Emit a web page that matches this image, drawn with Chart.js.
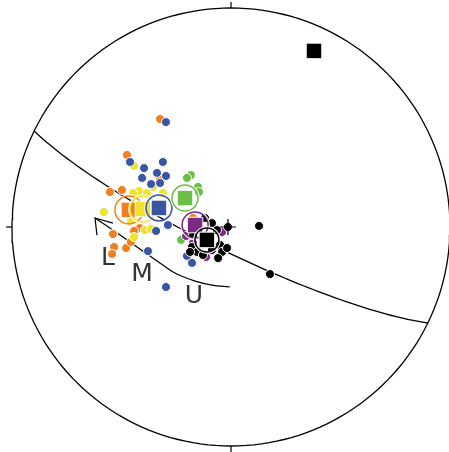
<!DOCTYPE html>
<html>
<head>
<meta charset="utf-8">
<script src="https://cdn.jsdelivr.net/npm/chart.js@4.4.1/dist/chart.umd.min.js"></script>
<style>
  html, body { margin: 0; padding: 0; background: #fff; }
  #wrap { width: 449px; height: 452px; }
</style>
</head>
<body>
<div id="wrap"><canvas id="net"></canvas></div>
<script>
// Lower-hemisphere equal-area net; coordinates are in net units
// (primitive circle radius = 1, x = east, y = north).

// Individual directions, one list per group
const orangeDirs = [
  [-0.324, 0.493], [-0.475, 0.329], [-0.324, 0.224], [-0.553, 0.160],
  [-0.498, 0.169], [-0.416, -0.005], [-0.539, -0.032], [-0.534, -0.091],
  [-0.543, -0.123], [-0.479, -0.096], [-0.457, -0.068], [-0.174, 0.041],
  [-0.443, -0.018]
];
const yellowDirs = [
  [-0.443, 0.279], [-0.420, 0.164], [-0.384, 0.155], [-0.356, 0.183],
  [-0.311, 0.155], [-0.580, 0.068], [-0.457, 0.023], [-0.443, -0.046],
  [-0.393, -0.014], [-0.365, -0.009], [-0.447, 0.155]
];
const blueDirs = [
  [-0.297, 0.479], [-0.461, 0.297], [-0.397, 0.269], [-0.311, 0.297],
  [-0.338, 0.247], [-0.297, 0.233], [-0.406, 0.224], [-0.365, 0.196],
  [-0.324, 0.201], [-0.288, 0.009], [-0.342, -0.018], [-0.379, -0.110],
  [-0.297, -0.274], [-0.201, -0.132], [-0.178, -0.164]
];
const greenDirs = [
  [-0.183, 0.237], [-0.201, 0.224], [-0.151, 0.183], [-0.146, 0.160],
  [-0.228, -0.059]
];
const purpleDirs = [
  [-0.041, -0.023], [-0.114, -0.137], [-0.174, -0.073], [-0.205, -0.041]
];
const blackDirs = [
  [-0.119, 0.041], [-0.087, 0.018], [-0.014, 0.000], [0.128, 0.005],
  [0.178, -0.215], [-0.174, -0.037], [-0.064, -0.014], [-0.178, -0.091],
  [-0.155, -0.114], [-0.128, -0.128], [-0.187, -0.114], [-0.050, -0.082],
  [-0.041, -0.114], [-0.018, -0.096], [-0.059, -0.142], [-0.087, -0.105]
];
// Direction drawn with a cross on top
const crossedDir = [[-0.014, 0.000]];

// Group means and their confidence cones (cone radius in px)
const groupMeans = [
  [-0.466, 0.078], [-0.402, 0.082], [-0.329, 0.087],
  [-0.210, 0.132], [-0.164, 0.009], [-0.110, -0.059]
];
const coneRadii = [14, 13, 13, 13, 13, 12];
const poleMean = [[0.379, 0.804]];

// Reference plane (strike, dip in degrees, right-hand rule)
const planeStrike = 116;
const planeDip = 81;

// Path of the L-M-U sequence, tail to arrow tip
const pathTrace = [
  [-0.005, -0.274], [-0.087, -0.265], [-0.164, -0.247], [-0.247, -0.215],
  [-0.311, -0.174], [-0.370, -0.132], [-0.429, -0.091], [-0.493, -0.046],
  [-0.553, -0.005], [-0.621, 0.041]
];
const arrowHead = [[-0.539, 0.018], [-0.621, 0.041], [-0.612, -0.037]];
const pathLabels = ['L', 'M', 'U'];
const pathLabelPos = [[-0.562, -0.132], [-0.406, -0.205], [-0.169, -0.306]];

// ---- geometry helpers ----
const D2R = Math.PI / 180;
function projectLine(n, e, d) {
  // vector (north, east, down) -> equal-area net coordinates
  if (d < 0) { n = -n; e = -e; d = -d; }
  const len = Math.hypot(n, e, d);
  const plunge = Math.asin(d / len);
  const trend = Math.atan2(e, n);
  const r = Math.SQRT2 * Math.sin((Math.PI / 2 - plunge) / 2);
  return { x: r * Math.sin(trend), y: r * Math.cos(trend) };
}
function greatCircle(strike, dip) {
  const s = [Math.cos(strike * D2R), Math.sin(strike * D2R), 0];
  const dd = (strike + 90) * D2R;
  const dv = [Math.cos(dip * D2R) * Math.cos(dd), Math.cos(dip * D2R) * Math.sin(dd), Math.sin(dip * D2R)];
  const pts = [];
  for (let a = 0; a <= 180; a += 2) {
    const c = Math.cos(a * D2R), sn = Math.sin(a * D2R);
    pts.push(projectLine(c * s[0] + sn * dv[0], c * s[1] + sn * dv[1], c * s[2] + sn * dv[2]));
  }
  return pts;
}
function primitive() {
  const pts = [];
  for (let a = 0; a <= 360; a += 2) pts.push({ x: Math.sin(a * D2R), y: Math.cos(a * D2R) });
  return pts;
}
const xy = arr => arr.map(p => ({ x: p[0], y: p[1] }));

const tickLen = 0.027;
const tickMarks = [
  [{ x: 0, y: 1 }, { x: 0, y: 1 + tickLen }],
  [{ x: 1, y: 0 }, { x: 1 + tickLen, y: 0 }],
  [{ x: 0, y: -1 }, { x: 0, y: -1 - tickLen }],
  [{ x: -1, y: 0 }, { x: -1 - tickLen, y: 0 }]
];

const groupColors = ['#f07f22', '#efe32b', '#3b55a5', '#6bbf48', '#7b2b86', '#000000'];
const groupDirs = [orangeDirs, yellowDirs, blueDirs, greenDirs, purpleDirs, blackDirs];

function lineSet(data, width) {
  return { type: 'scatter', data, showLine: true, borderColor: '#000', borderWidth: width,
           pointRadius: 0, fill: false, tension: 0 };
}

// Listed bottom to top
const layers = [];
layers.push(lineSet(primitive(), 1.3));
tickMarks.forEach(t => layers.push(lineSet(t, 1.2)));
layers.push(lineSet(greatCircle(planeStrike, planeDip), 1.3));
layers.push(Object.assign(lineSet(xy(pathTrace), 1.2), { tension: 0.4 }));
layers.push(lineSet(xy(arrowHead), 1.2));
groupDirs.forEach((dirs, i) => {
  layers.push({ type: 'scatter', data: xy(dirs), pointStyle: 'circle', pointRadius: 4.5,
    backgroundColor: groupColors[i], borderColor: '#fff', borderWidth: 1 });
});
layers.push({ type: 'scatter', data: xy(crossedDir), pointStyle: 'cross', pointRadius: 8,
  borderColor: '#000', borderWidth: 1.2, backgroundColor: '#000' });
groupMeans.forEach((m, i) => {
  layers.push({ type: 'scatter', data: xy([m]), pointStyle: 'circle', pointRadius: coneRadii[i] + 1,
    backgroundColor: 'rgba(0,0,0,0)', borderColor: '#fff', borderWidth: 1.5 });
  layers.push({ type: 'scatter', data: xy([m]), pointStyle: 'circle', pointRadius: coneRadii[i],
    backgroundColor: 'rgba(0,0,0,0)', borderColor: groupColors[i], borderWidth: 1.5 });
  layers.push({ type: 'scatter', data: xy([m]), pointStyle: 'rect', pointRadius: 11,
    backgroundColor: groupColors[i], borderColor: '#fff', borderWidth: 1 });
});
layers.push({ type: 'scatter', data: xy(poleMean), pointStyle: 'rect', pointRadius: 11,
  backgroundColor: '#000', borderColor: '#fff', borderWidth: 1 });

layers.forEach((ds, i) => { ds.order = layers.length - i; ds.clip = false; });

const letterPlugin = {
  id: 'pathLetters',
  afterDatasetsDraw(chart) {
    const { ctx, scales } = chart;
    ctx.save();
    ctx.font = '25px "DejaVu Sans", sans-serif';
    ctx.fillStyle = '#333';
    ctx.textAlign = 'center';
    ctx.textBaseline = 'alphabetic';
    pathLabels.forEach((t, i) => {
      // letters are anchored by the centre of their cap height
      ctx.fillText(t, scales.x.getPixelForValue(pathLabelPos[i][0]),
                      scales.y.getPixelForValue(pathLabelPos[i][1]) + 9);
    });
    ctx.restore();
  }
};

const R_PX = 219;
new Chart(document.getElementById('net'), {
  type: 'scatter',
  data: { datasets: layers },
  options: {
    responsive: true,
    maintainAspectRatio: false,
    animation: false,
    events: [],
    layout: { padding: 0, autoPadding: false },
    plugins: { legend: { display: false }, tooltip: { enabled: false } },
    scales: {
      x: { type: 'linear', display: false, min: -231 / R_PX, max: 218 / R_PX },
      y: { type: 'linear', display: false, min: -225 / R_PX, max: 227 / R_PX }
    }
  },
  plugins: [letterPlugin]
});
</script>
</body>
</html>
